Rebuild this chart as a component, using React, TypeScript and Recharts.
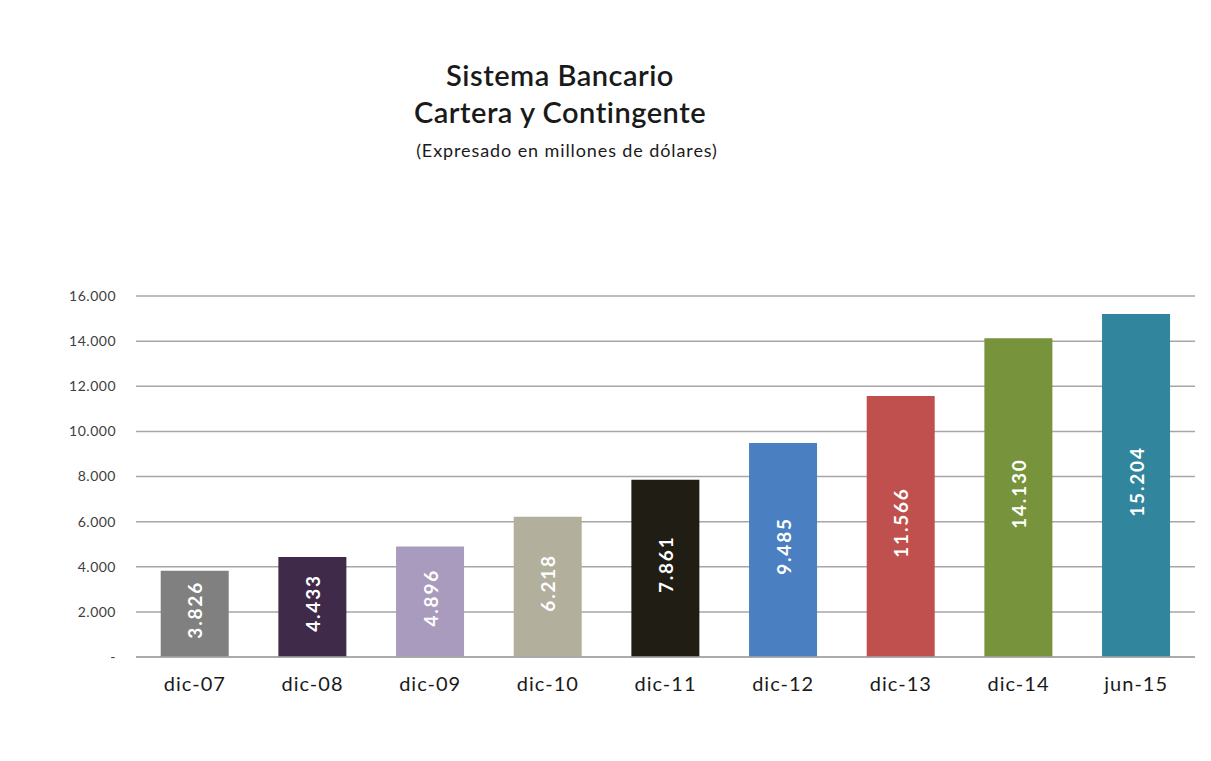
import React from 'react';
import { BarChart, Bar, XAxis, YAxis, CartesianGrid, Cell, LabelList } from 'recharts';

const categories = ['dic-07', 'dic-08', 'dic-09', 'dic-10', 'dic-11', 'dic-12', 'dic-13', 'dic-14', 'jun-15'];
const values = [3826, 4433, 4896, 6218, 7861, 9485, 11566, 14130, 15204];
const colors = ['#808080', '#3f2a4a', '#a99bbd', '#b3af9d', '#201d15', '#4a7fc1', '#c0504d', '#77933c', '#31859c'];
const yTicks = [0, 2000, 4000, 6000, 8000, 10000, 12000, 14000, 16000];

const data = categories.map((c, i) => ({ name: c, value: values[i] }));

const FONT = 'Lato, "Open Sans", sans-serif';

// miles con punto, cero como guion
const fmt = (v: number) => (v === 0 ? '-' : v.toLocaleString('de-DE'));

const BarLabel = (props: any) => {
  const { x, y, width, height, value } = props;
  const cx = x + width / 2;
  const cy = y + height / 2 - 4;
  return (
    <text
      x={cx}
      y={cy}
      transform={`rotate(-90, ${cx}, ${cy})`}
      textAnchor="middle"
      dominantBaseline="central"
      fill="#ffffff"
      fontFamily={FONT}
      fontWeight="bold"
      fontSize={19}
      letterSpacing={1.8}
    >
      {fmt(value)}
    </text>
  );
};

const App: React.FC = () => {
  return (
    <div style={{ position: 'absolute', left: 0, top: 0, width: 1211, height: 761, background: '#fff', fontFamily: FONT }}>
      <div style={{ position: 'absolute', left: 340, width: 440, top: 56, textAlign: 'center', color: '#1a1a1a' }}>
        <div style={{ fontSize: 29, lineHeight: '37px', fontWeight: 600, letterSpacing: 0.5 }}>Sistema Bancario</div>
        <div style={{ fontSize: 29, lineHeight: '37px', fontWeight: 600, letterSpacing: 0.5 }}>Cartera y Contingente</div>
        <div style={{ fontSize: 18, lineHeight: '40px', letterSpacing: 0.9, paddingLeft: 14 }}>
          (Expresado en millones de dólares)
        </div>
      </div>
      <BarChart
        width={1211}
        height={761}
        data={data}
        margin={{ top: 296, right: 16, bottom: 74, left: 76 }}
        barCategoryGap="21%"
      >
        <CartesianGrid horizontal vertical={false} stroke="#a6a6a6" strokeWidth={1.5} />
        <XAxis
          dataKey="name"
          axisLine={{ stroke: '#a6a6a6', strokeWidth: 1.5 }}
          tickLine={false}
          tickSize={0}
          tickMargin={20}
          tick={{ fill: '#1a1a1a', fontSize: 20, fontFamily: FONT, letterSpacing: 1 }}
        />
        <YAxis
          width={60}
          domain={[0, 16000]}
          ticks={yTicks}
          interval={0}
          axisLine={false}
          tickLine={false}
          tickSize={0}
          tickMargin={20}
          tickFormatter={fmt}
          tick={{ fill: '#404040', fontSize: 14, fontFamily: FONT, letterSpacing: 0.5 }}
        />
        <Bar dataKey="value" isAnimationActive={false}>
          {data.map((d, i) => (
            <Cell key={d.name} fill={colors[i]} />
          ))}
          <LabelList dataKey="value" content={BarLabel} />
        </Bar>
      </BarChart>
    </div>
  );
};

export default App;
